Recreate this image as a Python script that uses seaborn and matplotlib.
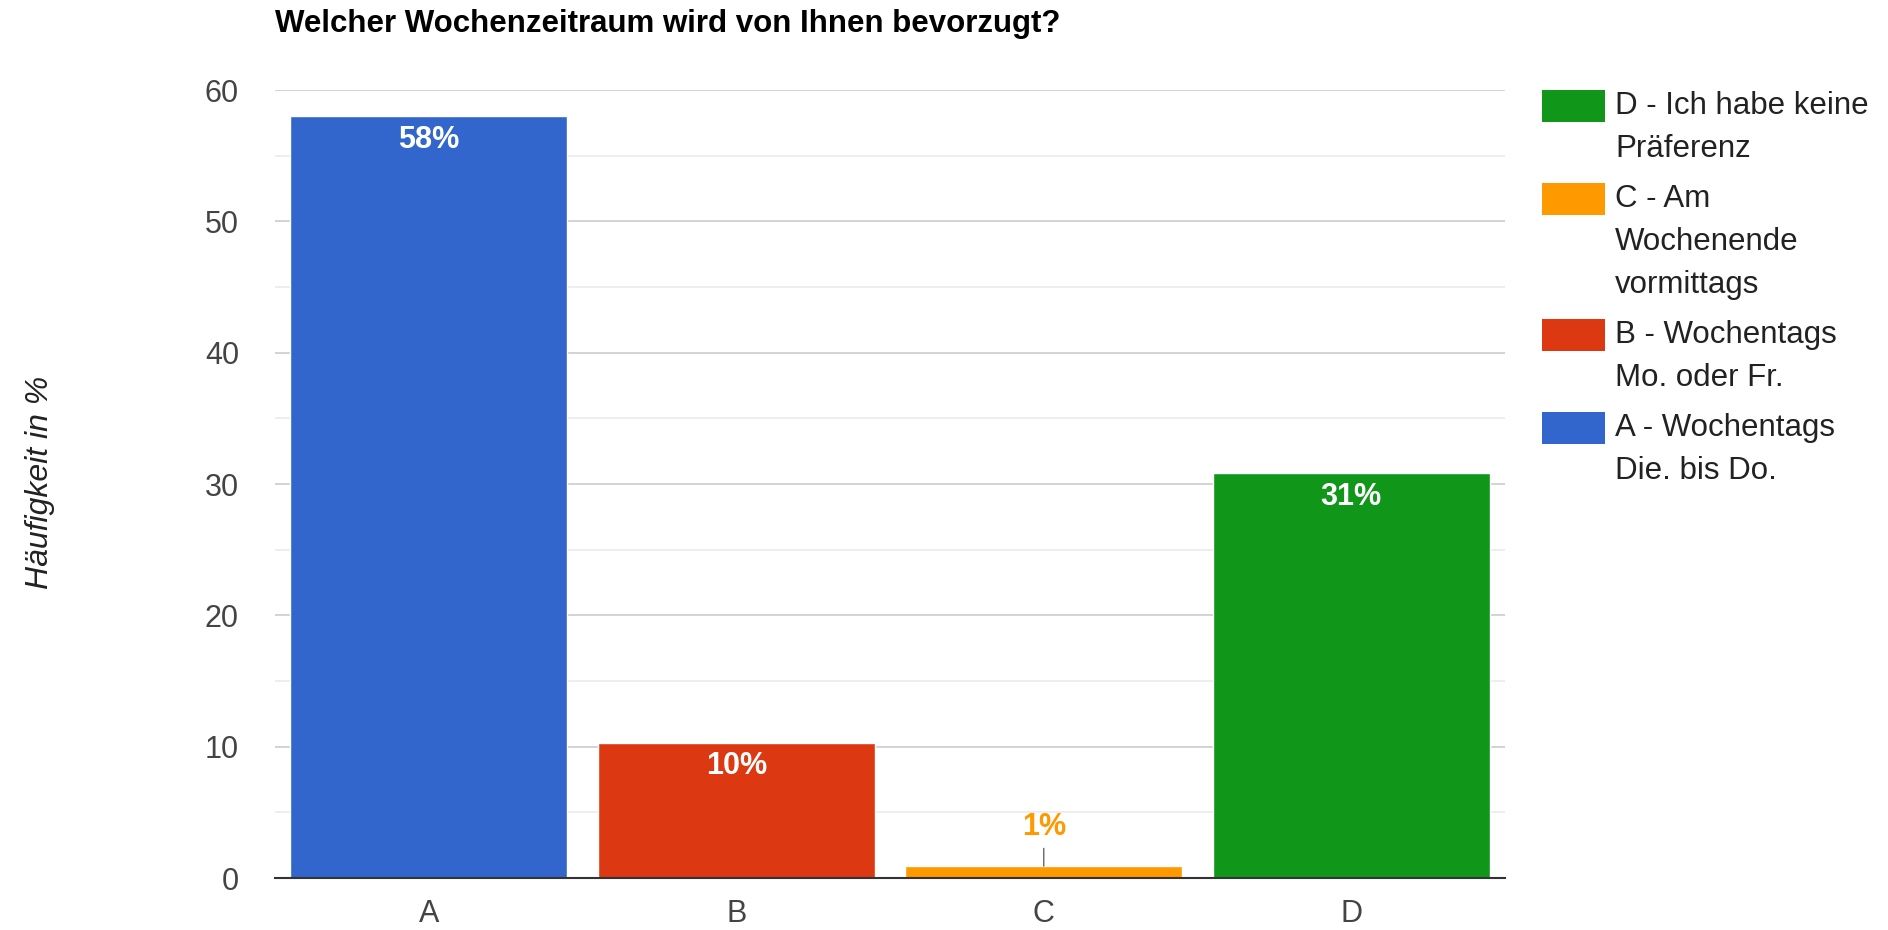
import matplotlib
matplotlib.use("Agg")
import matplotlib.pyplot as plt
import seaborn as sns
import pandas as pd
from matplotlib.patches import Rectangle

# ---- data ----
categories = ["A", "B", "C", "D"]
values = [58.0, 10.3, 0.9, 30.8]
value_labels = ["58%", "10%", "1%", "31%"]
colors = ["#3366cc", "#dc3912", "#ff9900", "#109618"]
legend_labels = [
    "D - Ich habe keine\nPräferenz",
    "C - Am\nWochenende\nvormittags",
    "B - Wochentags\nMo. oder Fr.",
    "A - Wochentags\nDie. bis Do.",
]
legend_colors = ["#109618", "#ff9900", "#dc3912", "#3366cc"]
title = "Welcher Wochenzeitraum wird von Ihnen bevorzugt?"
ylabel = "Häufigkeit in %"
yticks = [0, 10, 20, 30, 40, 50, 60]

sns.set_theme(style="white")
plt.rcParams["font.family"] = ["Liberation Sans", "DejaVu Sans"]

W, H = 1888, 930
fig = plt.figure(figsize=(W / 100, H / 100), dpi=100)
ax = fig.add_axes([275 / W, 1 - 878 / H, (1505 - 275) / W, (878 - 90) / H])

df = pd.DataFrame({"cat": categories, "val": values})
sns.barplot(data=df, x="cat", y="val", hue="cat", palette=colors,
            width=0.9, legend=False, ax=ax, saturation=1, zorder=3)

ax.set_xlim(-0.5, 3.5)
ax.set_ylim(0, 60)
ax.set_yticks(yticks)
ax.set_yticks([5, 15, 25, 35, 45, 55], minor=True)
ax.grid(axis="y", which="major", color="#cccccc", lw=1.2, zorder=0)
ax.grid(axis="y", which="minor", color="#ebebeb", lw=1.2, zorder=0)
ax.set_axisbelow(True)
for s in ["left", "right", "top"]:
    ax.spines[s].set_visible(False)
ax.spines["bottom"].set_color("#333333")
ax.spines["bottom"].set_linewidth(1.5)
ax.spines["bottom"].set_zorder(5)
ax.tick_params(axis="both", length=0, labelsize=22, colors="#444444")
ax.tick_params(axis="y", pad=26)
ax.tick_params(axis="x", pad=15)
ax.set_xlabel("")
ax.set_ylabel("")

# bar value labels
for i, (v, lab) in enumerate(zip(values, value_labels)):
    if v > 5:
        ax.annotate(lab, xy=(i, v), xytext=(0, -17), textcoords="offset points",
                    ha="center", va="center", color="white", fontsize=22,
                    fontweight="bold", zorder=6)
    else:
        ax.annotate(lab, xy=(i, v), xytext=(0, 28), textcoords="offset points",
                    ha="center", va="center", color=colors[i], fontsize=22,
                    fontweight="bold", zorder=6,
                    arrowprops=dict(arrowstyle="-", color="#666666", lw=1,
                                    shrinkA=2, shrinkB=0))

# title and y label
fig.text(275 / W, 1 - 24 / H, title, ha="left", va="center",
         fontsize=22.5, fontweight="bold", color="#000000")
fig.text(40 / W, 1 - 482 / H, ylabel, ha="center", va="center", rotation=90,
         fontsize=23, fontstyle="italic", color="#222222")

# legend (manual, Google-Charts style)
line_h = 43
y = 90
for lab, col in zip(legend_labels, legend_colors):
    fig.patches.append(Rectangle((1542 / W, 1 - (y + 32) / H), 63 / W, 32 / H,
                                 transform=fig.transFigure, facecolor=col,
                                 edgecolor="none"))
    for k, line in enumerate(lab.split("\n")):
        fig.text(1615 / W, 1 - (y + 16 + k * line_h) / H, line, ha="left",
                 va="center", fontsize=22.5, color="#222222")
    y += len(lab.split("\n")) * line_h + 7

fig.savefig("out.png", dpi=100, facecolor="white")
